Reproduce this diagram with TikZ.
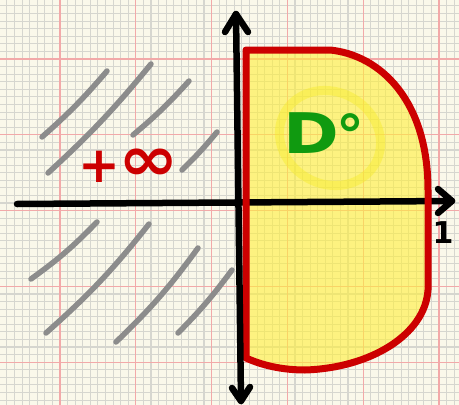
\documentclass[tikz,border=0pt]{standalone}
\usepackage{fontspec}
\usepackage{graphicx}
\newfontfamily\handfont{DejaVu Sans}
\usetikzlibrary{calc}
\definecolor{paper}{HTML}{FAF8EA}
\definecolor{minorc}{HTML}{D6D6CF}
\definecolor{majorc}{HTML}{F2A9A9}
\definecolor{inkred}{HTML}{CC0000}
\definecolor{inkgray}{HTML}{8C8C8C}
\definecolor{inkgreen}{HTML}{109A10}
\definecolor{hiyellow}{HTML}{FFEF3A}
\definecolor{haloyellow}{HTML}{F6EC20}
\tikzset{
  minorgrid/.style={draw=minorc, line width=1.1pt},
  majorgrid/.style={draw=majorc, line width=1.3pt},
  axisline/.style={draw=black, line width=6.5pt, line cap=round, line join=round},
  outline/.style={draw=inkred, line width=7pt, line cap=round, line join=round},
  hatch/.style={draw=inkgray, line width=5.5pt, line cap=round},
  areafill/.style={fill=hiyellow, fill opacity=0.6},
  halo/.style={draw=haloyellow, line width=9pt, draw opacity=0.4},
}
\begin{document}
\begin{tikzpicture}[x=1pt,y=-1pt]
\useasboundingbox (0,0) rectangle (459,405);
\fill[paper] (0,0) rectangle (459,405);
% grid
\foreach \i in {-8,...,53} \draw[minorgrid] ({60+\i*7.58},0) -- ({60+\i*7.58},405);
\foreach \j in {-8,...,46} \draw[minorgrid] (0,{59+\j*7.58}) -- (459,{59+\j*7.58});
\foreach \i in {-1,...,5} \draw[majorgrid] ({60+\i*75.8},0) -- ({60+\i*75.8},405);
\foreach \j in {-1,...,4} \draw[majorgrid] (0,{59+\j*75.8}) -- (459,{59+\j*75.8});

% region D
\path[areafill] (246,358) -- (246,50) -- (330,50)
  .. controls (380,55) and (428,100) .. (428,190) -- (428,290)
  .. controls (425,335) and (370,368) .. (305,370)
  .. controls (275,370) and (255,362) .. (246,358) -- cycle;
\draw[halo] (330,138) ellipse [x radius=52, y radius=46, rotate=-30];

% hatching
\draw[hatch] (42,137) to[bend right=4] (107,71);
\draw[hatch] (48,173) to[bend right=4] (151,64);
\draw[hatch] (133,135) to[bend right=4] (189,81);
\draw[hatch] (182,170) to[bend right=3] (217,132);
\draw[hatch] (31,279) to[bend right=5] (97,222);
\draw[hatch] (46,333) to[bend right=5] (149,224);
\draw[hatch] (116,342) to[bend right=5] (198,248);
\draw[hatch] (178,333) to[bend right=4] (232,270);

% axes
\coordinate (xs) at (17,204);
\coordinate (xe) at (452,201);
\coordinate (ys) at (236,14);
\coordinate (ye) at (241,401);
\draw[axisline] (xs) -- (xe);
\draw[axisline] (438,189) -- (xe) -- (438,213);

% boundary of D
\draw[outline] (246,358) -- (246,50) -- (330,50)
  .. controls (380,55) and (428,100) .. (428,190) -- (428,290)
  .. controls (425,335) and (370,368) .. (305,370)
  .. controls (275,370) and (255,362) .. (246,358) -- cycle;

\draw[axisline] (ys) -- (ye);
\draw[axisline] (225,32) -- (ys) -- (248,32);
\draw[axisline] (232,388) -- (ye) -- (250,387);

% labels
\node[text=inkred, font=\handfont\bfseries\fontsize{50}{50}\selectfont, inner sep=0pt] (pinf) at (129,166) {+\kern-2pt\raisebox{2pt}{\scalebox{1.45}[1.25]{∞}}};
\node[text=inkgreen, font=\handfont\bfseries\fontsize{56}{56}\selectfont, inner sep=0pt] (dlab) at (324,134) {\scalebox{1.2}[1]{D}\kern-2pt\raisebox{-2pt}{°}};
\node[text=black, font=\handfont\bfseries\fontsize{30}{30}\selectfont, inner sep=0pt] (one) at (443,233) {1};
\end{tikzpicture}
\end{document}
